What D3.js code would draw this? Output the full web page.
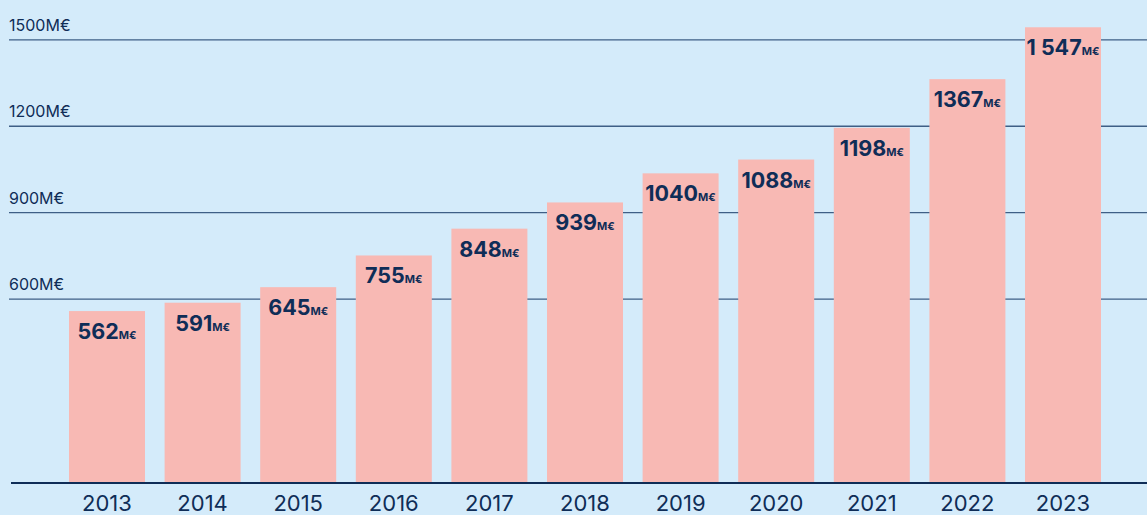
<!DOCTYPE html>
<html>
<head>
<meta charset="utf-8">
<script src="https://cdn.jsdelivr.net/npm/d3@7"></script>
<style>
  html, body { margin: 0; padding: 0; background: #d4ebfa; }
  svg { display: block; font-family: Inter, "Open Sans", sans-serif; }
</style>
</head>
<body>
<div id="chart"></div>
<script>
var width = 1147;
var height = 515;

var years = ["2013", "2014", "2015", "2016", "2017", "2018", "2019", "2020", "2021", "2022", "2023"];
var revenue = [562, 591, 645, 755, 848, 939, 1040, 1088, 1198, 1367, 1547];
var valueLabels = ["562", "591", "645", "755", "848", "939", "1040", "1088", "1198", "1367", "1 547"];
var gridTicks = [600, 900, 1200, 1500];
var gridLabels = ["600M€", "900M€", "1200M€", "1500M€"];

var ink = "#0f2d57";
var baseY = 482;

var data = years.map(function (y, i) {
  return { year: y, value: revenue[i], label: valueLabels[i] };
});

// scales
var xScale = d3.scaleBand().domain(years).range([69, 1101]).paddingInner(0.205).paddingOuter(0);
var yScale = d3.scaleLinear().domain([0, 1600]).range([473, 12]);

var svg = d3.select("#chart")
  .append("svg")
  .attr("width", width)
  .attr("height", height);

svg.append("rect")
  .attr("width", width)
  .attr("height", height)
  .attr("fill", "#d4ebfa");

// gridlines + labels
var grid = svg.append("g");
grid.selectAll("line")
  .data(gridTicks)
  .enter()
  .append("line")
  .attr("x1", 9)
  .attr("x2", width)
  .attr("y1", function (d) { return yScale(d) - 1; })
  .attr("y2", function (d) { return yScale(d) - 1; })
  .attr("stroke", "#3e5f86")
  .attr("stroke-width", 1.3);

grid.selectAll("text")
  .data(gridTicks)
  .enter()
  .append("text")
  .attr("x", 9)
  .attr("y", function (d) { return yScale(d) - 10; })
  .attr("fill", ink)
  .style("font-size", "16px")
  .text(function (d, i) { return gridLabels[i]; });

// bars
svg.append("g")
  .selectAll("rect")
  .data(data)
  .enter()
  .append("rect")
  .attr("x", function (d) { return xScale(d.year); })
  .attr("y", function (d) { return yScale(d.value); })
  .attr("width", xScale.bandwidth())
  .attr("height", function (d) { return baseY - yScale(d.value); })
  .attr("fill", "#f8b9b4");

// value labels
var vl = svg.append("g")
  .selectAll("text")
  .data(data)
  .enter()
  .append("text")
  .attr("x", function (d) { return xScale(d.year) + xScale.bandwidth() / 2; })
  .attr("y", function (d) { return yScale(d.value) + 28; })
  .attr("text-anchor", "middle")
  .attr("fill", ink)
  .style("font-weight", 700);

vl.append("tspan")
  .style("font-size", "21.5px")
  .text(function (d) { return d.label; });
vl.append("tspan")
  .style("font-size", "11px")
  .text("M€");

// baseline
svg.append("line")
  .attr("x1", 11)
  .attr("x2", width)
  .attr("y1", baseY + 1)
  .attr("y2", baseY + 1)
  .attr("stroke", ink)
  .attr("stroke-width", 2);

// x axis labels
svg.append("g")
  .selectAll("text")
  .data(years)
  .enter()
  .append("text")
  .attr("x", function (d) { return xScale(d) + xScale.bandwidth() / 2; })
  .attr("y", 511)
  .attr("text-anchor", "middle")
  .attr("fill", ink)
  .style("font-size", "22px")
  .text(function (d) { return d; });
</script>
</body>
</html>
